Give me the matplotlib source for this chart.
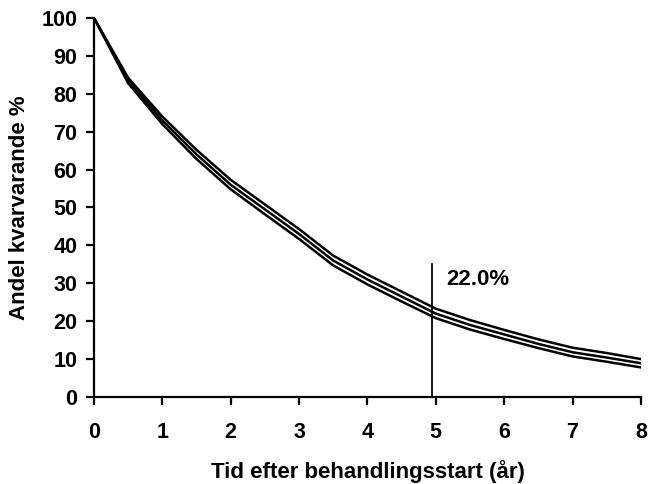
import matplotlib
matplotlib.use('Agg')
import matplotlib.pyplot as plt

plt.rcParams['font.family'] = ['Liberation Sans', 'DejaVu Sans']
plt.rcParams['font.weight'] = 'bold'

# tid (år) och andel kvarvarande (%), övre/undre konfidensgräns
tid = [0, 0.5, 1, 1.5, 2, 2.5, 3, 3.5, 4, 4.5, 5, 5.5, 6, 6.5, 7, 7.5, 8]
andel = [100, 83.5, 73.0, 64.0, 56.0, 49.5, 43.0, 36.0, 31.0, 26.5, 22.0, 19.0, 16.5, 14.0, 11.8, 10.4, 8.9]
ovre = [100, 84.2, 74.0, 65.2, 57.3, 50.8, 44.3, 37.3, 32.3, 27.8, 23.3, 20.3, 17.7, 15.2, 13.0, 11.6, 10.0]
undre = [100, 82.8, 72.0, 62.8, 54.8, 48.2, 41.7, 34.7, 29.7, 25.2, 20.8, 17.8, 15.3, 12.9, 10.7, 9.3, 7.8]

markering_x = 4.95
markering_topp = 35
markering_text = '22.0%'

fig = plt.figure(figsize=(6.5, 4.84), dpi=100)
ax = fig.add_axes([0.1446, 0.1798, 0.8414, 0.783])

for serie in (ovre, andel, undre):
    ax.plot(tid, serie, color='black', lw=1.8, solid_joinstyle='miter')

ax.plot([markering_x, markering_x], [0, markering_topp], color='black', lw=1.3)
ax.text(markering_x + 0.21, 31, markering_text, fontsize=16, fontweight='bold',
        ha='left', va='center')

ax.set_xlim(0, 8)
ax.set_ylim(0, 100)
ax.set_xticks(range(0, 9))
ax.set_yticks(range(0, 101, 10))
ax.spines['top'].set_visible(False)
ax.spines['right'].set_visible(False)
for s in ('left', 'bottom'):
    ax.spines[s].set_linewidth(1.6)
ax.tick_params(direction='out', length=6, width=1.6, labelsize=15.5, pad=6)
ax.tick_params(axis='x', pad=12)
for lbl in ax.get_xticklabels() + ax.get_yticklabels():
    lbl.set_fontweight('bold')

ax.set_xlabel('Tid efter behandlingsstart (år)', fontsize=16, fontweight='bold', labelpad=12)
ax.set_ylabel('Andel kvarvarande %', fontsize=16, fontweight='bold', labelpad=8)

fig.savefig('out.png', dpi=100)
